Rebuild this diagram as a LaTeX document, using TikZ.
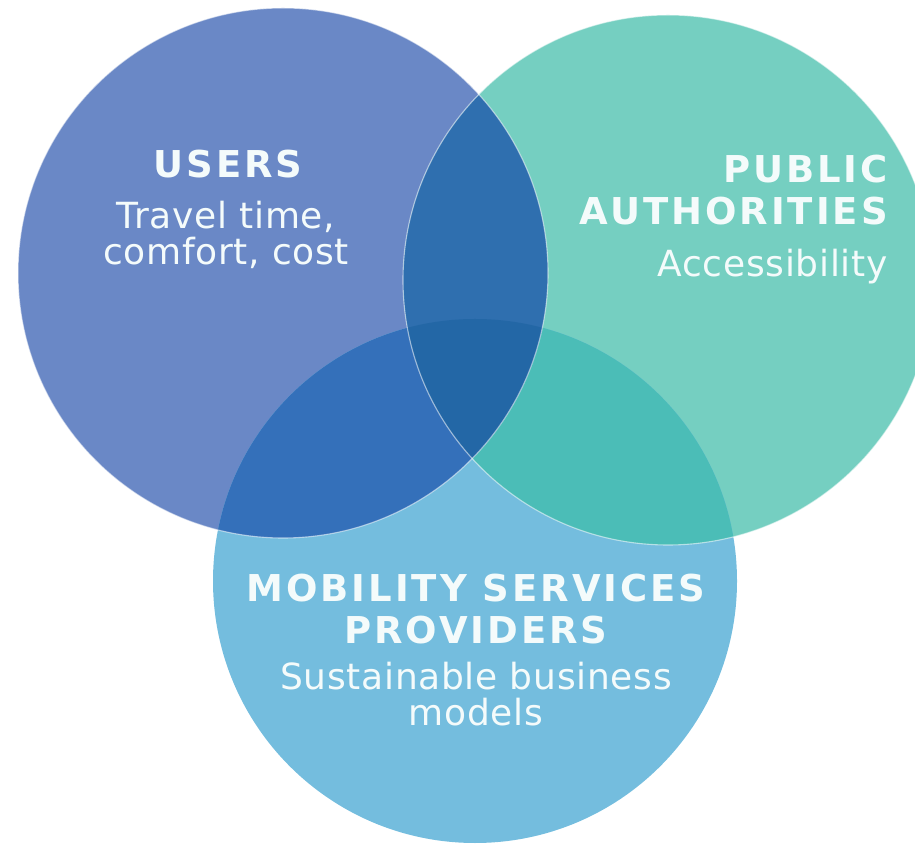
\documentclass[tikz,border=0pt]{standalone}
\usepackage{fontspec}
\setmainfont{DejaVu Sans}
\newfontfamily\headfont[LetterSpace=8]{DejaVu Sans Bold}
\newfontfamily\bodyfont[LetterSpace=2]{DejaVu Sans}
\usepackage{tikz}

\definecolor{usersblue}{HTML}{6A88C6}
\definecolor{authgreen}{HTML}{75CFC1}
\definecolor{mobblue}{HTML}{74BDDE}
\definecolor{usersauth}{HTML}{2F6FAF}
\definecolor{usersmob}{HTML}{3470BA}
\definecolor{authmob}{HTML}{4BBDB7}
\definecolor{allthree}{HTML}{2367A6}
\definecolor{txtwhite}{HTML}{F4FBFB}

\begin{document}
\begin{tikzpicture}[x=1pt,y=1pt,
	head/.style={text=txtwhite, inner sep=0pt, font=\headfont\fontsize{37}{42}\selectfont},
	body/.style={text=txtwhite, inner sep=0pt, font=\bodyfont\fontsize{36}{36}\selectfont},
	ring/.style={draw=white, draw opacity=0.55, line width=1.1pt}]

% parameters %{{{2

	\def\rusers{265pt}
	\def\rauth{265pt}
	\def\rmob{262pt}

% coordinates %{{{2

	\useasboundingbox (0,0) rectangle (915,846);

	\coordinate (U) at (283,573);
	\coordinate (A) at (668,566);
	\coordinate (M) at (475,265);

% circles %{{{2

	\fill[usersblue] (U) circle (\rusers);
	\fill[authgreen] (A) circle (\rauth);
	\fill[mobblue] (M) circle (\rmob);

% overlaps %{{{2

	\begin{scope}
		\clip (A) circle (\rauth);
		\fill[authmob] (M) circle (\rmob);
	\end{scope}

	\begin{scope}
		\clip (U) circle (\rusers);
		\fill[usersmob] (M) circle (\rmob);
		\fill[usersauth] (A) circle (\rauth);
		\clip (A) circle (\rauth);
		\fill[allthree] (M) circle (\rmob);
	\end{scope}

% edges %{{{2

	\draw[ring] (U) circle (\rusers);
	\draw[ring] (A) circle (\rauth);

% labels %{{{2

	\node[head, anchor=north, align=center] (usershead) at (228,696) {USERS};
	\node[body, anchor=north, align=center] (userstext) at (226,645) {Travel time,\\comfort, cost};

	\node[head, anchor=north east, align=right] (authhead) at (888,691) {PUBLIC\\AUTHORITIES};
	\node[body, anchor=north east, align=right] (authtext) at (888,597) {Accessibility};

	\node[head, anchor=north, align=center] (mobhead) at (476,272) {MOBILITY SERVICES\\PROVIDERS};
	\node[body, anchor=north, align=center] (mobtext) at (476,184) {Sustainable business\\models};

% closing %{{{2

\end{tikzpicture}
\end{document}
